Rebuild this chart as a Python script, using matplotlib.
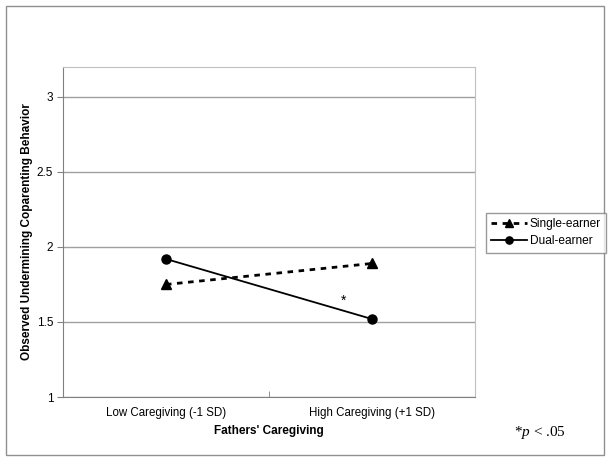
import matplotlib
matplotlib.use("Agg")
import matplotlib.pyplot as plt
from matplotlib.patches import Rectangle

plt.rcParams["font.family"] = ["Liberation Sans", "DejaVu Sans"]
plt.rcParams["mathtext.fontset"] = "custom"
plt.rcParams["mathtext.it"] = "Liberation Serif:italic"
plt.rcParams["mathtext.rm"] = "Liberation Serif"

categories = ["Low Caregiving (-1 SD)", "High Caregiving (+1 SD)"]
single_earner = [1.75, 1.89]
dual_earner = [1.92, 1.52]
y_ticks = [1, 1.5, 2, 2.5, 3]

fig = plt.figure(figsize=(6.12, 4.61), dpi=100)
ax = fig.add_axes([0.1029, 0.1388, 0.673, 0.716])

x = list(range(len(categories)))
ax.plot(x, single_earner, color="black", linestyle=(0, (2, 2)), linewidth=2,
        marker="^", markersize=6.5, label="Single-earner")
ax.plot(x, dual_earner, color="black", linestyle="-", linewidth=1.3,
        marker="o", markersize=6.5, label="Dual-earner")

ax.text(0.86, 1.64, "*", ha="center", va="center", fontsize=10)

ax.set_xlim(-0.5, 1.5)
ax.set_ylim(1, 3.2)
ax.set_yticks(y_ticks)
ax.set_yticklabels(["1", "1.5", "2", "2.5", "3"], fontsize=8.5)
ax.set_xticks(x)
ax.set_xticklabels(categories, fontsize=8.3)
ax.tick_params(axis="x", length=0, pad=7)
ax.set_xticks([-0.5, 0.5, 1.5], minor=True)
ax.tick_params(axis="x", which="minor", direction="in", length=4, color="#808080")
ax.tick_params(axis="y", length=4, color="#808080", pad=3)
ax.grid(axis="y", color="#a0a0a0", linewidth=1)
ax.set_axisbelow(True)
for side in ["left", "bottom"]:
    ax.spines[side].set_color("#808080")
for side in ["top", "right"]:
    ax.spines[side].set_color("#c0c0c0")

ax.set_ylabel("Observed Undermining Coparenting Behavior", fontsize=8.5,
              fontweight="bold")
ax.yaxis.set_label_coords(-0.087, 0.5)
ax.set_xlabel("Fathers' Caregiving", fontsize=8.5, fontweight="bold")
ax.xaxis.set_label_coords(0.5, -0.103)
ax.xaxis.label.set_va("center")
ax.yaxis.label.set_va("center")

leg = fig.legend(loc="upper left", bbox_to_anchor=(486 / 612, 1 - 213 / 461),
                 fontsize=8.6, frameon=True, fancybox=False, handlelength=3,
                 borderpad=0.45, labelspacing=0.4, handletextpad=0.2,
                 borderaxespad=0, markerscale=0.8)
leg.get_frame().set_edgecolor("#808080")
leg.get_frame().set_linewidth(1)

fig.text(540 / 612, 1 - 432 / 461, r"*$\it{p}$ < .05", family="Liberation Serif",
         fontsize=11, ha="center", va="center")

fig.patches.append(Rectangle((6 / 612, 6 / 461), 598 / 612, 449 / 461,
                             transform=fig.transFigure, fill=False,
                             edgecolor="#909090", linewidth=1))

fig.savefig("out.png", dpi=100)
